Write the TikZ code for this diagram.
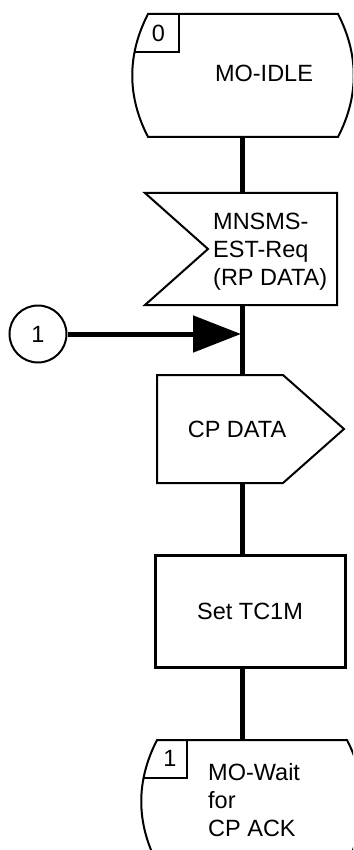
\documentclass[tikz,border=0pt]{standalone}
\usepackage{fontspec}
\setmainfont{Liberation Sans}
\usetikzlibrary{arrows.meta}
\begin{document}
\begin{tikzpicture}[x=1pt,y=-1pt,
  every node/.style={font=\fontsize{23.5}{28}\selectfont, inner sep=0pt},
  outline/.style={draw, line width=2pt},
  flow/.style={line width=5pt}]
\fill[white] (0,0) rectangle (353,850);
\useasboundingbox (0,0) rectangle (353,850);
\clip (0,0) rectangle (353,850);
% state 0
\draw[outline] (148,14) -- (338,14) .. controls (359,55) and (359,96) .. (338,137)
  -- (148,137) .. controls (127,96) and (127,55) .. cycle;
\draw[outline] (134.5,52) -- (179,52) -- (179,14);
\node (idle-no) at (158.5,33.5) {0};
\node (idle) at (264,73.5) {MO-IDLE};
\coordinate (idle-s) at (242,137);
% input
\draw[outline] (145,193) -- (337,193) -- (337,305) -- (145,305) -- (208,249) -- cycle;
\node[anchor=north west, align=left] (est) at (213,213) {MNSMS-\\EST-Req\\(RP DATA)};
\coordinate (est-n) at (242,193);
\coordinate (est-s) at (242,305);
% connector 1
\node[draw, circle, line width=2pt, minimum size=57pt] (conn1) at (38,334) {1};
\coordinate (merge) at (241,334);
% output
\draw[outline] (157,375) -- (283,375) -- (344,429) -- (283,483) -- (157,483) -- cycle;
\node (cpdata) at (237,429.5) {CP DATA};
\coordinate (cpdata-n) at (242,375);
\coordinate (cpdata-s) at (242,483);
% task
\node[draw, line width=3pt, minimum width=190pt, minimum height=112pt] (tc1m) at (250,611) {Set TC1M};
% state 1
\draw[outline] (157,740) -- (347,740) .. controls (368,781) and (368,822) .. (347,863)
  -- (157,863) .. controls (136,822) and (136,781) .. cycle;
\draw[outline] (143.5,778) -- (187,778) -- (187,740);
\node (wait-no) at (170,758.5) {1};
\node[anchor=north west, align=left] (wait) at (208,763) {MO-Wait\\for\\CP ACK};
\coordinate (wait-n) at (242,740);
% flow lines
\draw[flow] (idle-s) -- (est-n);
\draw[flow] (est-s) -- (cpdata-n);
\draw[flow] (cpdata-s) -- (cpdata-s |- tc1m.north);
\draw[flow] (tc1m.south -| wait-n) -- (wait-n);
\draw[flow, -{Triangle[length=48pt,width=36pt]}] (conn1) -- (merge);
\end{tikzpicture}
\end{document}
